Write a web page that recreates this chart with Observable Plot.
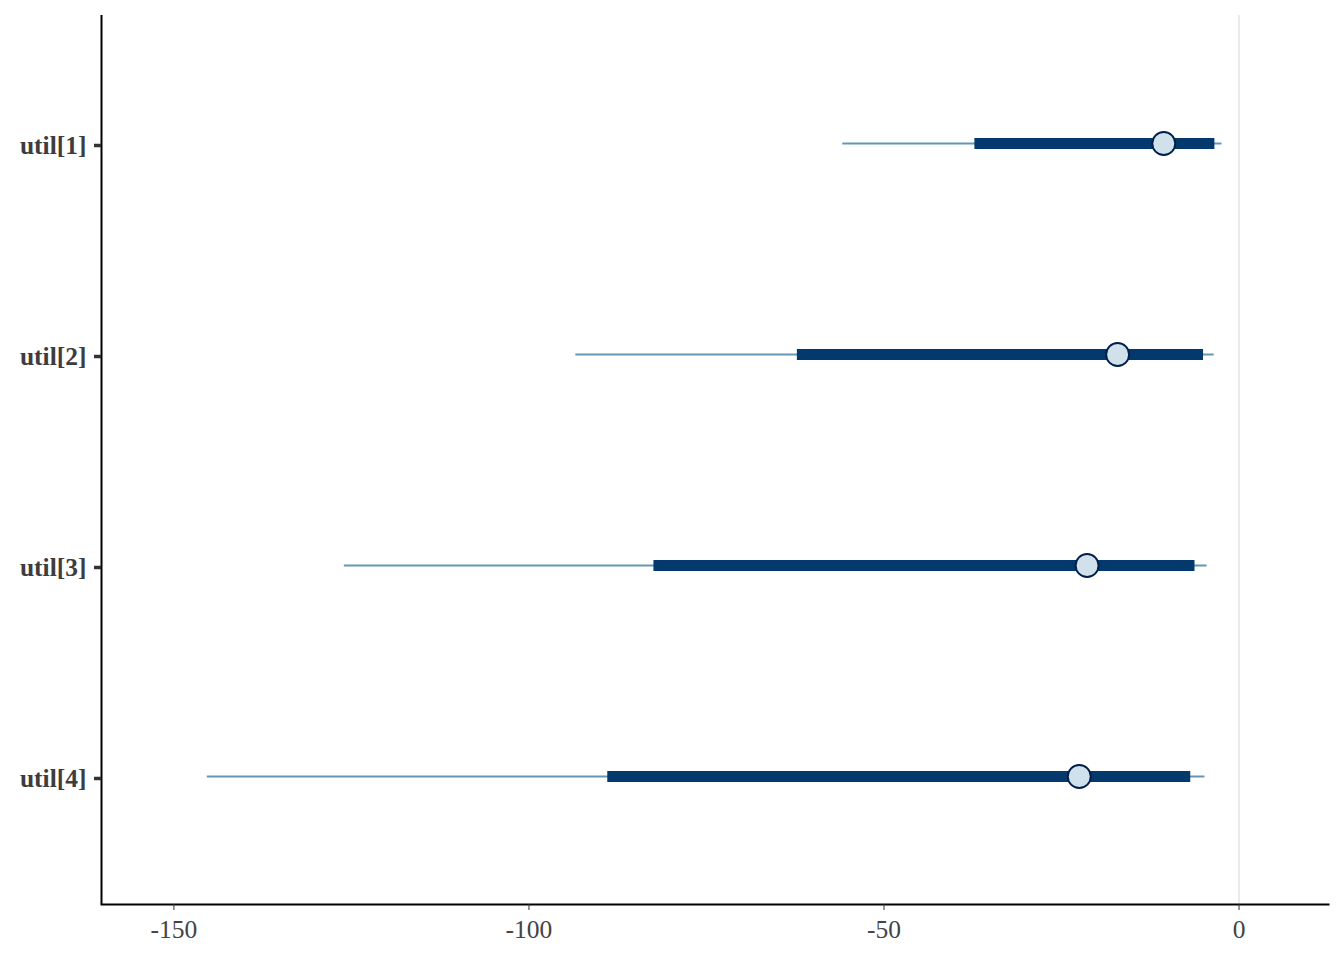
<!DOCTYPE html>
<html>
<head>
<meta charset="utf-8">
<script src="https://cdn.jsdelivr.net/npm/d3@7"></script>
<script src="https://cdn.jsdelivr.net/npm/@observablehq/plot@0.6"></script>
<style>
  html, body { margin: 0; padding: 0; background: #ffffff; }
  #chart { width: 1344px; height: 960px; }
</style>
</head>
<body>
<div id="chart"></div>
<script>
// Parameters and interval summaries
const params = ["util[1]", "util[2]", "util[3]", "util[4]"];
const outerLow  = [-55.8, -93.4, -126.0, -145.3];
const innerLow  = [-37.2, -62.2, -82.4, -88.9];
const medians   = [-10.6, -17.1, -21.4, -22.5];
const innerHigh = [-3.4, -5.0, -6.2, -6.8];
const outerHigh = [-2.4, -3.5, -4.5, -4.8];
const xTicks = [-150, -100, -50, 0];
const xDomain = [-160.2, 12.6];

const data = params.map((p, i) => ({
  param: p, ll: outerLow[i], l: innerLow[i], m: medians[i], h: innerHigh[i], hh: outerHigh[i]
}));

const font = "'Liberation Serif', 'Times New Roman', serif";

const chart = Plot.plot({
  width: 1344,
  height: 960,
  marginLeft: 101,
  marginRight: 16,
  marginTop: 15,
  marginBottom: 56,
  style: { fontFamily: font, background: "#ffffff" },
  x: { domain: xDomain, label: null },
  y: { type: "point", domain: params, padding: 0.6, label: null },
  marks: [
    Plot.ruleX([0], { stroke: "#e3e3e3", strokeWidth: 1.5 }),
    Plot.ruleY(data, { y: "param", x1: "ll", x2: "hh", stroke: "#6497b1", strokeWidth: 2 }),
    Plot.ruleY(data, { y: "param", x1: "l", x2: "h", stroke: "#03396c", strokeWidth: 11 }),
    Plot.dot(data, { x: "m", y: "param", r: 11.5, fill: "#d1e1ec", stroke: "#011f4b", strokeWidth: 2, symbol: "circle" }),
    Plot.ruleX([xDomain[0]], { stroke: "#000", strokeWidth: 2 }),
    Plot.frame({ anchor: "bottom", stroke: "#000", strokeWidth: 2 }),
    Plot.axisX({
      ticks: xTicks, tickFormat: d => String(d), tickSize: 6, tickPadding: 9,
      fontSize: 25.5, fill: "#444", stroke: "#333", strokeWidth: 1, label: null
    }),
    Plot.axisY({
      tickSize: 7, tickPadding: 8, fontSize: 25.5, fontWeight: "bold", dy: 2,
      fill: "#3d3d3d", stroke: "#333", strokeWidth: 3.5, label: null
    })
  ]
});

document.getElementById("chart").appendChild(chart);
</script>
</body>
</html>
